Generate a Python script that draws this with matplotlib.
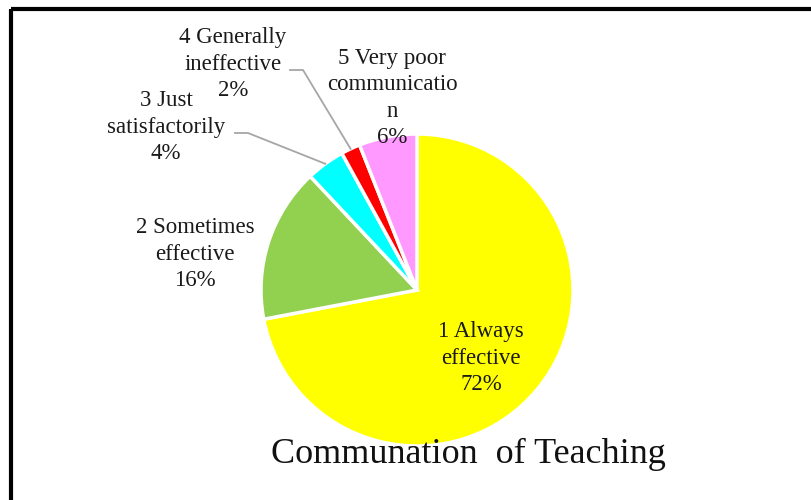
import numpy as np
import matplotlib.pyplot as plt

plt.rcParams['font.family'] = ['Liberation Serif', 'DejaVu Serif']

# data
labels = ['1 Always\neffective', '2 Sometimes\neffective', '3 Just\nsatisfactorily',
          '4 Generally\nineffective', '5 Very poor\ncommunicatio\nn']
values = [72, 16, 4, 2, 6]
colors = ['#FFFF00', '#92D050', '#00FFFF', '#FF0000', '#FF99FF']
title = 'Communation  of Teaching'

W, H = 811, 500
fig = plt.figure(figsize=(W / 100, H / 100), dpi=100)
ax = fig.add_axes([0, 0, 1, 1])

cx, cy, r = 417, 290, 156

# pie, drawn in pixel coords (y axis flipped, so clockwise flips too)
wedges, _ = ax.pie(values, colors=colors, startangle=-90, counterclock=True,
                   center=(cx, cy), radius=r, frame=True,
                   wedgeprops=dict(edgecolor='white', linewidth=2.5))
ax.set_xlim(0, W)
ax.set_ylim(H, 0)
ax.set_aspect('equal')
ax.axis('off')

# frame lines (only top and left visible in the screenshot)
ax.plot([10.5, W], [9, 9], color='black', lw=3, solid_capstyle='butt')
ax.plot([10.5, 10.5], [9, H], color='black', lw=3, solid_capstyle='butt')

fs = 16.5
label_pos = [(481, 358), (195, 254), (166, 127), (233, 64), (392, 98)]
for lab, v, (tx, ty) in zip(labels, values, label_pos):
    ax.text(tx, ty, f'{lab}\n{v}%', ha='center', va='center', fontsize=fs,
            linespacing=1.33, color='#1a1a1a')

# leader lines for the small slices
cum = np.cumsum([0] + values)
tot = sum(values)
leaders = {2: (235, 133, 248), 3: (290, 70, 303)}
for i, (x0, y0, x1) in leaders.items():
    mid = (cum[i] + cum[i + 1]) / 2 / tot
    ang = np.deg2rad(90 - 360 * mid)
    px, py = cx + r * np.cos(ang), cy - r * np.sin(ang)
    ax.plot([x0, x1, px], [y0, y0, py], color='#a6a6a6', lw=1.3)

ax.text(468, 454, title, ha='center', va='center', fontsize=26, color='#111111')

fig.savefig('out.png', dpi=100)
